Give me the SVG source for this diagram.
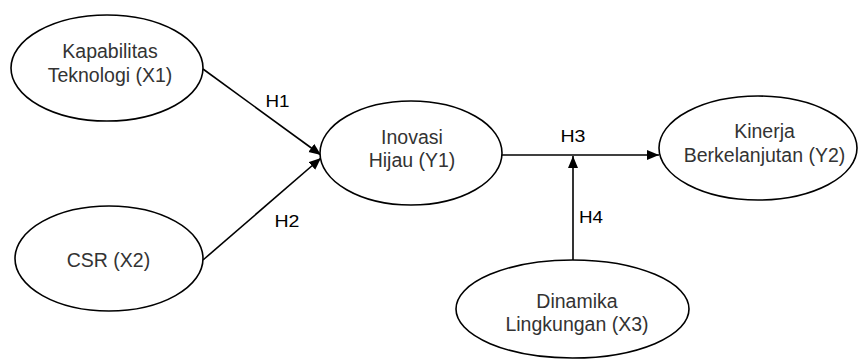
<svg xmlns="http://www.w3.org/2000/svg" width="860" height="360" viewBox="0 0 860 360">
<style>
.node ellipse{fill:#fff;stroke:#000;stroke-width:1.6}
.node text{font-family:"Liberation Sans",Arial,sans-serif;font-size:19.5px;fill:#333;text-anchor:middle}
.conn line{stroke:#000;stroke-width:1.6;fill:none}
.lbl{font-family:"Liberation Sans",Arial,sans-serif;font-size:16px;fill:#000;text-anchor:middle}
</style>
<defs>
<marker id="arr" markerUnits="userSpaceOnUse" markerWidth="13" markerHeight="11" refX="12" refY="5" orient="auto">
<path d="M0,0 L12,5 L0,10 z" fill="#000"/>
</marker>
</defs>
<rect width="860" height="360" fill="#fff"/>
<g id="connectors" class="conn">
<line x1="203" y1="69" x2="321" y2="155" marker-end="url(#arr)"/>
<line x1="203" y1="260" x2="321" y2="158" marker-end="url(#arr)"/>
<line x1="502" y1="155" x2="659" y2="155" marker-end="url(#arr)"/>
<line x1="573" y1="260" x2="573" y2="156" marker-end="url(#arr)"/>
<text class="lbl" x="277.5" y="106.5" textLength="24" lengthAdjust="spacingAndGlyphs">H1</text>
<text class="lbl" x="287" y="226.5" textLength="25" lengthAdjust="spacingAndGlyphs">H2</text>
<text class="lbl" x="573" y="142.3" textLength="25" lengthAdjust="spacingAndGlyphs">H3</text>
<text class="lbl" x="591" y="222.7" textLength="24" lengthAdjust="spacingAndGlyphs">H4</text>
</g>
<g id="x1" class="node">
<ellipse cx="107" cy="68" rx="96" ry="53"/>
<text x="110" y="58.3">Kapabilitas</text>
<text x="110" y="81.5">Teknologi (X1)</text>
</g>
<g id="x2" class="node">
<ellipse cx="109" cy="258.5" rx="94" ry="52.5"/>
<text x="108.5" y="266.5">CSR (X2)</text>
</g>
<g id="y1" class="node">
<ellipse cx="411" cy="153" rx="91" ry="52"/>
<text x="412" y="143.5">Inovasi</text>
<text x="412" y="166.5">Hijau (Y1)</text>
</g>
<g id="y2" class="node">
<ellipse cx="758" cy="148" rx="99" ry="52"/>
<text x="764.5" y="138.3">Kinerja</text>
<text x="764.5" y="161.5">Berkelanjutan (Y2)</text>
</g>
<g id="x3" class="node">
<ellipse cx="572.5" cy="309" rx="116.5" ry="49"/>
<text x="577" y="308">Dinamika</text>
<text x="577" y="331">Lingkungan (X3)</text>
</g>
</svg>
